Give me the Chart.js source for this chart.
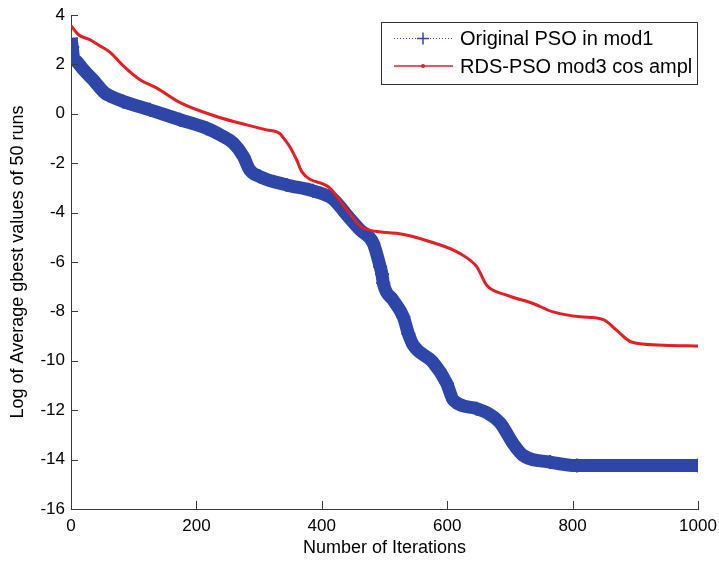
<!DOCTYPE html>
<html>
<head>
<meta charset="utf-8">
<script src="https://cdn.jsdelivr.net/npm/chart.js@4.4.1/dist/chart.umd.min.js"></script>
<style>
html,body{margin:0;padding:0;background:#fff;}
#wrap{width:719px;height:563px;position:relative;}
</style>
</head>
<body>
<div id="wrap"><canvas id="c" width="719" height="563"></canvas></div>
<script>
// ---- data ----
const psoIter = [0, 2, 4, 10, 20, 35, 54, 60, 83, 126, 174, 216, 238, 259, 275, 285, 301, 344, 386, 418, 440, 461, 482, 493, 496, 498, 514, 530, 538, 546, 577, 599, 610, 647, 684, 705, 721, 764, 807, 1000];
const psoVals = [3.05, 2.7, 2.3, 2.1, 1.78, 1.38, 0.84, 0.75, 0.5, 0.16, -0.24, -0.58, -0.85, -1.19, -1.73, -2.27, -2.54, -2.88, -3.12, -3.45, -4.1, -4.7, -5.24, -6.19, -6.5, -6.85, -7.55, -8.22, -8.9, -9.37, -10.05, -10.9, -11.6, -11.94, -12.5, -13.35, -13.83, -14.1, -14.24, -14.24];

const rdsIter = [0, 12, 30, 46, 62, 83, 110, 137, 174, 232, 280, 312, 333, 341, 349, 360, 368, 413, 440, 466, 519, 573, 620, 647, 663, 695, 737, 769, 812, 849, 870, 894, 945, 1000];
const rdsVals = [3.57, 3.2, 3.0, 2.75, 2.5, 1.95, 1.38, 1.04, 0.45, -0.11, -0.45, -0.65, -0.8, -1.05, -1.33, -1.87, -2.34, -3.01, -3.89, -4.63, -4.84, -5.18, -5.65, -6.19, -6.94, -7.34, -7.68, -8.02, -8.22, -8.33, -8.76, -9.24, -9.37, -9.40];

const seriesNames = ['Original PSO in mod1', 'RDS-PSO mod3 cos ampl'];
const xTicks = [0, 200, 400, 600, 800, 1000];
const yTicks = [4, 2, 0, -2, -4, -6, -8, -10, -12, -14, -16];
const xTitle = 'Number of Iterations';
const yTitle = 'Log of Average gbest values of 50 runs';

const BLUE = '#2d46a8';
const RED = '#e41e22';
const AXIS = '#3a3a3a';
const FONT = "'Liberation Sans', Arial, sans-serif";

const toPts = (xs, ys) => xs.map((x, i) => ({x: x, y: ys[i]}));

const inwardTicks = {
  id: 'inwardTicks',
  afterDatasetsDraw(chart) {
    const ctx = chart.ctx;
    const xs = chart.scales.x, ys = chart.scales.y;
    const area = chart.chartArea;
    ctx.save();
    ctx.strokeStyle = AXIS;
    ctx.lineWidth = 1;
    ctx.beginPath();
    xTicks.forEach(v => {
      const px = Math.round(xs.getPixelForValue(v)) + 0.5;
      ctx.moveTo(px, area.bottom);
      ctx.lineTo(px, area.bottom - 8);
    });
    yTicks.forEach(v => {
      const py = Math.round(ys.getPixelForValue(v)) + 0.5;
      ctx.moveTo(area.left, py);
      ctx.lineTo(area.left + 7, py);
    });
    ctx.stroke();
    ctx.restore();
  }
};

const boxLegend = {
  id: 'boxLegend',
  afterDraw(chart) {
    const ctx = chart.ctx;
    const L = 381, T = 22, W = 316, H = 62;
    ctx.save();
    ctx.fillStyle = '#fff';
    ctx.fillRect(L, T, W, H);
    ctx.strokeStyle = '#333';
    ctx.lineWidth = 1;
    ctx.strokeRect(L + 0.5, T + 0.5, W, H);
    ctx.font = '20px ' + FONT;
    ctx.textBaseline = 'middle';
    ctx.fillStyle = '#000';
    const ds = chart.data.datasets;
    let y = 38.5;
    ctx.strokeStyle = BLUE;
    ctx.lineWidth = 1;
    ctx.setLineDash([1, 2]);
    ctx.beginPath(); ctx.moveTo(394, y); ctx.lineTo(453, y); ctx.stroke();
    ctx.setLineDash([]);
    ctx.lineWidth = 1.5;
    ctx.beginPath();
    ctx.moveTo(417, y); ctx.lineTo(429, y);
    ctx.moveTo(423, y - 6); ctx.lineTo(423, y + 6);
    ctx.stroke();
    ctx.fillText(ds[0].label, 460, y + 1);
    y = 66;
    ctx.strokeStyle = RED;
    ctx.lineWidth = 1.5;
    ctx.beginPath(); ctx.moveTo(394, y); ctx.lineTo(453, y); ctx.stroke();
    ctx.fillStyle = RED;
    ctx.beginPath(); ctx.arc(423, y, 2, 0, Math.PI * 2); ctx.fill();
    ctx.fillStyle = '#000';
    ctx.fillText(ds[1].label, 460, y + 1);
    ctx.restore();
  }
};

new Chart(document.getElementById('c'), {
  type: 'scatter',
  data: {
    datasets: [
      {
        label: seriesNames[0],
        data: toPts(psoIter, psoVals),
        showLine: true,
        borderColor: BLUE,
        backgroundColor: BLUE,
        borderWidth: 13,
        pointStyle: 'cross',
        pointRadius: 7,
        pointBorderWidth: 2,
        pointBorderColor: BLUE,
        cubicInterpolationMode: 'monotone',
        order: 2
      },
      {
        label: seriesNames[1],
        data: toPts(rdsIter, rdsVals),
        showLine: true,
        borderColor: RED,
        backgroundColor: RED,
        borderWidth: 3,
        pointRadius: 0,
        cubicInterpolationMode: 'monotone',
        order: 1
      }
    ]
  },
  options: {
    responsive: false,
    animation: false,
    layout: {padding: {left: 0, right: 21, top: 15, bottom: 0}},
    plugins: {legend: {display: false}, tooltip: {enabled: false}},
    scales: {
      x: {
        type: 'linear', min: 0, max: 1000,
        afterBuildTicks(s) { s.ticks = xTicks.map(v => ({value: v})); },
        afterFit(s) { s.height = 54; s.paddingRight = 0; s.paddingLeft = 0; },
        grid: {display: false, drawTicks: false},
        border: {display: true, color: AXIS, width: 1},
        ticks: {color: '#000', font: {family: FONT, size: 17}, padding: 7, maxRotation: 0, callback: v => String(v)},
        title: {display: true, text: xTitle, color: '#000', font: {family: FONT, size: 18}, padding: {top: 0, bottom: 4}}
      },
      y: {
        type: 'linear', min: -16, max: 4,
        afterBuildTicks(s) { s.ticks = yTicks.map(v => ({value: v})); },
        afterFit(s) { s.width = 71; s.paddingTop = 0; s.paddingBottom = 0; },
        grid: {display: false, drawTicks: false},
        border: {display: true, color: AXIS, width: 1},
        ticks: {color: '#000', font: {family: FONT, size: 17}, padding: 6, callback: v => String(v)},
        title: {display: true, text: yTitle, color: '#000', font: {family: FONT, size: 18}, padding: {top: 7, bottom: 0}}
      }
    }
  },
  plugins: [inwardTicks, boxLegend]
});
</script>
</body>
</html>
